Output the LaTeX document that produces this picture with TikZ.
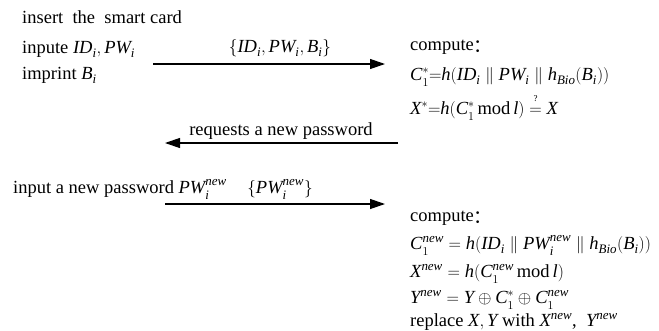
\documentclass[tikz,border=0pt]{standalone}
\usepackage{fontspec}
\setmainfont{Liberation Serif}
\newfontfamily\cjk{Noto Sans CJK SC}
\usetikzlibrary{arrows.meta}
\newcommand{\mi}[1]{\mathit{#1}}
\newcommand{\cc}{\raisebox{-0.3ex}{\cjk ：}}
\newcommand{\fd}{\fontdimen16\textfont2=4.2pt\fontdimen17\textfont2=6.2pt\relax}
\newcommand{\mm}[1]{$\fd #1$}
\newcommand{\qeq}{\mathrel{\mathop{=}\limits^{\raisebox{4pt}{\fontsize{9}{9}\selectfont ?}}}}
\begin{document}
\begin{tikzpicture}[x=1pt,y=-1pt,
  txt/.style={anchor=base west,inner sep=0pt,font=\fontsize{18.5}{22}\selectfont},
  lbl/.style={anchor=base,inner sep=0pt,font=\fontsize{18.5}{22}\selectfont},
  msg/.style={line width=1.2pt,-{Triangle[length=15pt,width=10pt]}}]
\useasboundingbox (0,0) rectangle (659,330);
% left column
\node[txt] (t1) at (22,23) {insert\ \ the\ \ smart card};
\node[txt] (t2) at (22,53) {inpute \mm{\mi{ID}_{\mi{i}},\mi{PW}_{\mi{i}}}};
\node[txt] (t3) at (22,79) {imprint \mm{\mi{B}_{\mi{i}}}};
% message 1
\coordinate (a1s) at (153,64);
\coordinate (a1e) at (385,64);
\draw[msg] (a1s) -- (a1e);
\node[lbl] (l1) at (280,52) {\mm{\{\mi{ID}_{\mi{i}},\mi{PW}_{\mi{i}},\mi{B}_{\mi{i}}\}}};
% right column 1
\node[txt] (r1) at (410,50) {compute\cc};
\node[txt] (r2) at (410,80) {\mm{\mi{C}_1^{*}{=}\mi{h}(\mi{ID}_{\mi{i}}\parallel \mi{PW}_{\mi{i}}\parallel \mi{h}_{\mi{Bio}}(\mi{B}_{\mi{i}}))}};
\node[txt] (r3) at (410,114) {\mm{\mi{X}^{*}{=}\mi{h}(\mi{C}_1^{*}\,\mathrm{mod}\,\mi{l})\qeq\mi{X}}};
% message 2
\coordinate (a2s) at (398,143);
\coordinate (a2e) at (165,143);
\draw[msg] (a2s) -- (a2e);
\node[lbl] (l2) at (281,135) {requests a new password};
% left column 2
\node[txt] (t4) at (13,193) {input a new password \mm{\mi{PW}_{\mi{i}}^{\mi{new}}}};
\node[lbl] (l3) at (280,193) {\mm{\{\mi{PW}_{\mi{i}}^{\mi{new}}\}}};
% message 3
\coordinate (a3s) at (165,204);
\coordinate (a3e) at (385,204);
\draw[msg] (a3s) -- (a3e);
% right column 2
\node[txt] (r4) at (410,221) {compute\cc};
\node[txt] (r5) at (410,249) {\mm{\mi{C}_1^{\mi{new}}=\mi{h}(\mi{ID}_{\mi{i}}\parallel \mi{PW}_{\mi{i}}^{\mi{new}}\parallel \mi{h}_{\mi{Bio}}(\mi{B}_{\mi{i}}))}};
\node[txt] (r6) at (410,277) {\mm{\mi{X}^{\mi{new}}=\mi{h}(\mi{C}_1^{\mi{new}}\,\mathrm{mod}\,\mi{l})}};
\node[txt] (r7) at (410,303) {\mm{\mi{Y}^{\mi{new}}=\mi{Y}\oplus \mi{C}_1^{*}\oplus \mi{C}_1^{\mi{new}}}};
\node[txt] (r8) at (410,326) {replace \mm{\mi{X},\mi{Y}} with \mm{\mi{X}^{\mi{new}}},\ \ \mm{\mi{Y}^{\mi{new}}}};
\end{tikzpicture}
\end{document}
